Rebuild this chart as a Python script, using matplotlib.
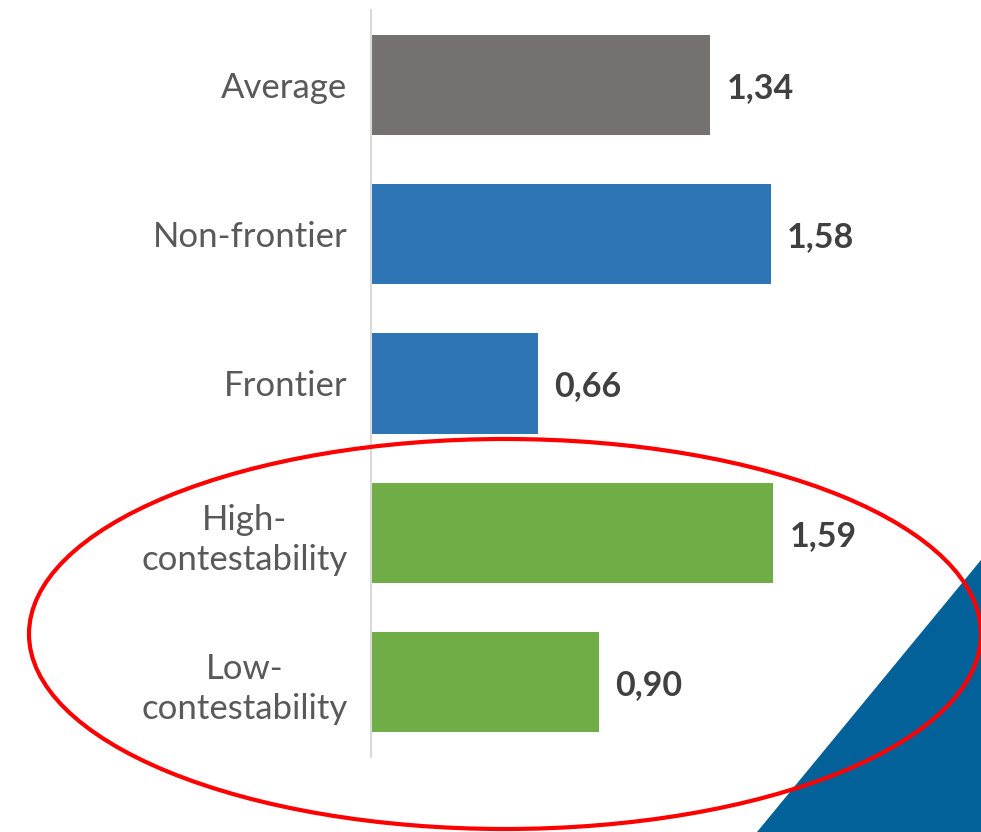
import matplotlib.pyplot as plt
from matplotlib.patches import Ellipse, Polygon

# data
categories = ["Average", "Non-frontier", "Frontier", "High-\ncontestability", "Low-\ncontestability"]
values = [1.34, 1.58, 0.66, 1.59, 0.90]
colors = ["#767171", "#2E75B6", "#2E75B6", "#70AD47", "#70AD47"]

plt.rcParams['font.family'] = ['Lato', 'DejaVu Sans']

fig = plt.figure(figsize=(9.81, 8.32), dpi=100)
ax = fig.add_axes([371 / 981, 1 - 757 / 832, 1 - 371 / 981, 747 / 832])

pos = list(range(len(categories)))
ax.barh(pos, values, height=0.67, color=colors, zorder=2)
ax.set_ylim(4.5, -0.5)
ax.set_xlim(0, 610 / 253)

# value labels with comma decimals
for p, v in zip(pos, values):
    ax.text(v + 0.065, p + 0.02, f"{v:.2f}".replace(".", ","), va="center", ha="left",
            fontsize=24.5, fontweight="bold", color="#404040")

ax.set_yticks(pos)
ax.set_yticklabels(categories, fontsize=25, color="#595959", multialignment="center",
                   linespacing=1.3)
ax.tick_params(axis="y", length=0, pad=17)
ax.set_xticks([])
for s in ["top", "right", "bottom"]:
    ax.spines[s].set_visible(False)
ax.spines["left"].set_color("#D9D9D9")
ax.spines["left"].set_linewidth(1.5)

# blue corner triangle and red ellipse on top
tri = Polygon([[757 / 981, 0], [1, 1 - 560 / 832], [1, 0]], closed=True,
              transform=fig.transFigure, facecolor="#036199", edgecolor="none", zorder=5)
fig.add_artist(tri)
ell = Ellipse((505 / 981, 1 - 634 / 832), 952 / 981, 390 / 832, transform=fig.transFigure,
              facecolor="none", edgecolor="#FF0000", linewidth=3, zorder=6)
fig.add_artist(ell)

fig.savefig("out.png", dpi=100)
